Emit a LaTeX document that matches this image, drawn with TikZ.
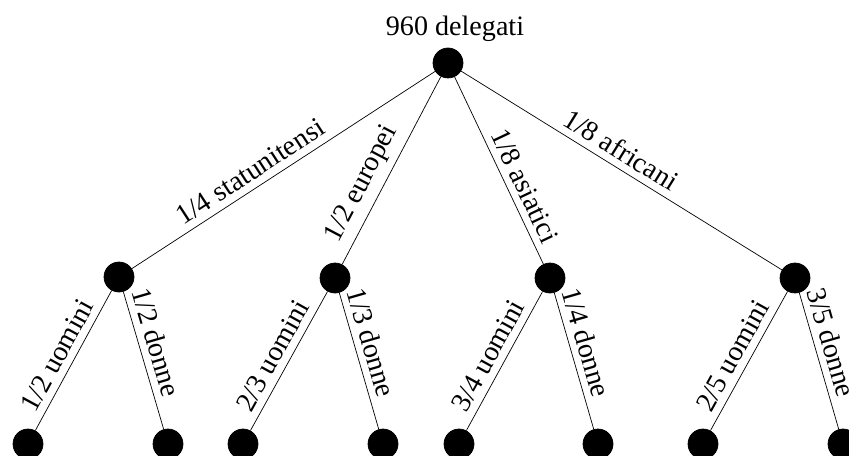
\documentclass[tikz,border=0pt]{standalone}
\usepackage{fontspec}
\setmainfont{Liberation Serif}
\usetikzlibrary{positioning}

\begin{document}
\begin{tikzpicture}[x=0.02cm, y=-0.02cm, font=\fontsize{16}{19}\selectfont]
	\useasboundingbox (0,0) rectangle (849,456);
	\begin{scope}[every node/.style={circle, draw, fill=black, inner sep=0pt, minimum size=0.6cm}]
		\node (1) at (448,63) {};
		\node (2) at (119,277) {};
		\node (3) at (335,278) {};
		\node (4) at (550,278) {};
		\node (5) at (795,278) {};
		\node (6) at (28,444) {};
		\node (7) at (168,444) {};
		\node (8) at (243,444) {};
		\node (9) at (383,444) {};
		\node (10) at (459,444) {};
		\node (11) at (598,444) {};
		\node (12) at (703,444) {};
		\node (13) at (843,444) {};
	\end{scope}

	\node[above=0pt of 1, xshift=0.14cm] (0) {960 delegati};

	\begin{scope}[every node/.style={sloped, above, inner sep=4pt},
	              every edge/.style={draw=black}]
		\path (1) edge node[pos=0.58] {1/4 statunitensi} (2);
		\path (1) edge node[pos=0.62] {1/2 europei} (3);
		\path (1) edge node[pos=0.62] {1/8 asiatici} (4);
		\path (1) edge node[pos=0.47] {1/8 africani} (5);
		\path (2) edge node[pos=0.52] {1/2 uomini} (6);
		\path (2) edge node[pos=0.4] {1/2 donne} (7);
		\path (3) edge node[pos=0.52] {2/3 uomini} (8);
		\path (3) edge node[pos=0.4] {1/3 donne} (9);
		\path (4) edge node[pos=0.52] {3/4 uomini} (10);
		\path (4) edge node[pos=0.4] {1/4 donne} (11);
		\path (5) edge node[pos=0.52] {2/5 uomini} (12);
		\path (5) edge node[pos=0.4] {3/5 donne} (13);
	\end{scope}
\end{tikzpicture}
\end{document}
